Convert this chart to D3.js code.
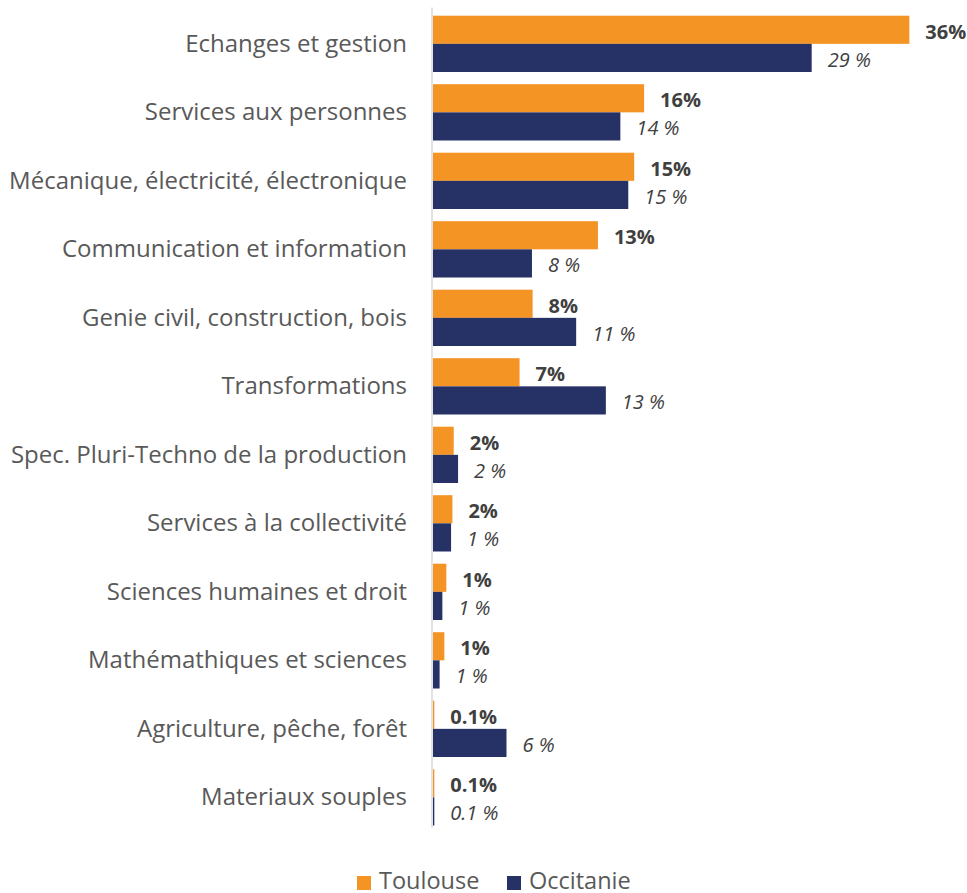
<!DOCTYPE html>
<html>
<head>
<meta charset="utf-8">
<script src="https://cdn.jsdelivr.net/npm/d3@7"></script>
<style>
  body { margin: 0; background: #fff; }
  svg { display: block; font-family: "Open Sans", sans-serif; }
</style>
</head>
<body>
<svg id="chart" width="967" height="893"></svg>
<script>
let categories = [
    "Echanges et gestion",
    "Services aux personnes",
    "Mécanique, électricité, électronique",
    "Communication et information",
    "Genie civil, construction, bois",
    "Transformations",
    "Spec. Pluri-Techno de la production",
    "Services à la collectivité",
    "Sciences humaines et droit",
    "Mathémathiques et sciences",
    "Agriculture, pêche, forêt",
    "Materiaux souples"
];
let toulouse = [36.1, 16.0, 15.25, 12.5, 7.55, 6.56, 1.57, 1.47, 1.01, 0.86, 0.1, 0.1];
let occitanie = [28.7, 14.2, 14.8, 7.5, 10.85, 13.1, 1.9, 1.37, 0.71, 0.5, 5.57, 0.1];
let toulouseLabels = ["36%", "16%", "15%", "13%", "8%", "7%", "2%", "2%", "1%", "1%", "0.1%", "0.1%"];
let occitanieLabels = ["29 %", "14 %", "15 %", "8 %", "11 %", "13 %", "2 %", "1 %", "1 %", "1 %", "6 %", "0.1 %"];
let seriesNames = ["Toulouse", "Occitanie"];

let orangeColor = "#f39425";
let navyColor = "#263166";
let labelColor = "#595959";
let valueColor = "#404040";

function drawBarChart(svgId) {
    let svg = d3.select(svgId);
    let left = 433;

    let x = d3.scaleLinear()
        .domain([0, 36])
        .range([left, left + 475]);

    let y = d3.scaleBand()
        .domain(categories)
        .range([9.6, 831.6])
        .paddingInner(0.178)
        .paddingOuter(0.089);

    let ySub = d3.scaleBand()
        .domain(seriesNames)
        .range([0, y.bandwidth()]);

    let rows = categories.map((c, i) => ({
        cat: c,
        values: [
            {name: "Toulouse", v: toulouse[i], label: toulouseLabels[i]},
            {name: "Occitanie", v: occitanie[i], label: occitanieLabels[i]}
        ]
    }));

    // bars
    let groups = svg.selectAll(".group")
        .data(rows)
        .enter()
        .append("g")
        .attr("class", "group")
        .attr("transform", d => "translate(0," + y(d.cat) + ")");

    groups.selectAll("rect")
        .data(d => d.values)
        .enter()
        .append("rect")
        .attr("x", x(0))
        .attr("y", d => ySub(d.name))
        .attr("width", d => x(d.v) - x(0))
        .attr("height", ySub.bandwidth())
        .style("fill", d => d.name == "Toulouse" ? orangeColor : navyColor);

    // value labels
    groups.selectAll(".val")
        .data(d => d.values)
        .enter()
        .append("text")
        .attr("class", "val")
        .attr("x", d => x(d.v) + 16)
        .attr("y", d => ySub(d.name) + ySub.bandwidth() / 2 + 2)
        .attr("dy", "0.35em")
        .text(d => d.label)
        .style("font-size", 20)
        .style("font-weight", d => d.name == "Toulouse" ? "bold" : "normal")
        .style("font-style", d => d.name == "Toulouse" ? "normal" : "italic")
        .style("fill", valueColor);

    // category axis
    svg.append("g")
        .attr("transform", "translate(" + left + ",0)")
        .call(d3.axisLeft(y).tickSize(0).tickPadding(26))
        .call(g => g.select(".domain").remove())
        .selectAll("text")
        .style("font-family", "Open Sans")
        .style("font-size", 24)
        .style("fill", labelColor);

    svg.append("line")
        .attr("x1", left - 1)
        .attr("x2", left - 1)
        .attr("y1", y.range()[0] - 2)
        .attr("y2", y.range()[1] - 4)
        .style("stroke", "#d9d9d9")
        .style("stroke-width", 1.5);

    // legend
    let legend = [
        {name: "Toulouse", color: orangeColor, x: 357},
        {name: "Occitanie", color: navyColor, x: 507}
    ];
    for (let l of legend) {
        svg.append("rect")
            .attr("x", l.x)
            .attr("y", 876)
            .attr("width", 14)
            .attr("height", 14)
            .style("fill", l.color);
        svg.append("text")
            .attr("x", l.x + 22)
            .attr("y", 889)
            .text(l.name)
            .style("font-size", 23.5)
            .style("fill", labelColor);
    }
}

drawBarChart("#chart");
</script>
</body>
</html>
